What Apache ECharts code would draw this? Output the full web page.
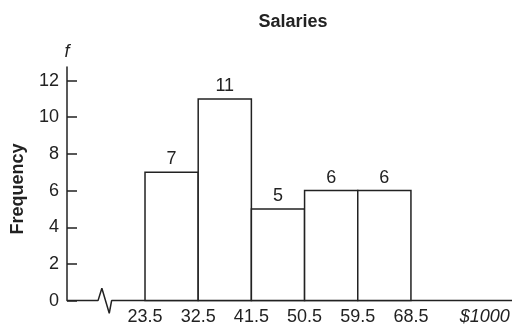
<!DOCTYPE html>
<html><head><meta charset="utf-8">
<script src="https://cdn.jsdelivr.net/npm/echarts@6/dist/echarts.min.js"></script>
<style>html,body{margin:0;padding:0;background:#fff}#c{width:513px;height:326px}</style>
</head><body><div id="c"></div>
<script>
const titleText = 'Salaries';
const yAxisTitle = 'Frequency';
const yAxisSymbol = 'f';
const binEdges = [23.5, 32.5, 41.5, 50.5, 59.5, 68.5];
const frequencies = [7, 11, 5, 6, 6];
const yTickValues = [0, 2, 4, 6, 8, 10, 12];
const xUnitLabel = '$1000';
const xUnitPos = 81.0;

const xMin = 10.3, xMax = 85.6, yMax = 12.74;
const breakPath = [[xMin, 0], [15.55, 0], [16.2, 0.67], [17.45, -0.69], [17.85, 0], [xMax, 0]];

const FONT = '"Liberation Sans", Arial, Helvetica, sans-serif';
const INK = '#222';

const chart = echarts.init(document.getElementById('c'));
chart.setOption({
  animation: false,
  backgroundColor: '#fff',
  textStyle: { fontFamily: FONT },
  title: {
    text: titleText, left: 288, top: 8, textAlign: 'center',
    textStyle: { fontFamily: FONT, fontWeight: 'bold', fontSize: 18, color: INK }
  },
  grid: { left: 67, right: 1, top: 67, bottom: 25.4, outerBoundsMode: 'none', containLabel: false },
  xAxis: {
    type: 'value', min: xMin, max: xMax,
    axisLine: { show: false }, axisTick: { show: false }, splitLine: { show: false },
    axisLabel: {
      customValues: binEdges.concat([xUnitPos]),
      margin: 7, fontSize: 18, color: INK, fontFamily: FONT,
      formatter: v => Math.abs(v - xUnitPos) < 1e-6 ? '{i|' + xUnitLabel + '}' : v.toFixed(1),
      rich: { i: { fontStyle: 'italic', fontSize: 18, color: INK, fontFamily: FONT } }
    }
  },
  yAxis: {
    type: 'value', min: 0, max: yMax,
    name: yAxisSymbol, nameLocation: 'end', nameGap: 6,
    nameTextStyle: { fontStyle: 'italic', fontSize: 18, color: INK, fontFamily: FONT, align: 'center' },
    axisLine: { show: true, lineStyle: { color: INK, width: 1.5 } },
    axisTick: { show: true, inside: true, length: 10, customValues: yTickValues, lineStyle: { color: INK, width: 1.5 } },
    axisLabel: { customValues: yTickValues, margin: 8, fontSize: 18, color: INK, fontFamily: FONT },
    splitLine: { show: false }
  },
  graphic: [{
    type: 'text', x: 18, y: 189, rotation: Math.PI / 2,
    style: { text: yAxisTitle, font: 'bold 18px ' + FONT, fill: INK, align: 'center', verticalAlign: 'middle' }
  }],
  series: [
    {
      type: 'line', data: breakPath, symbol: 'none', clip: false, silent: true,
      lineStyle: { color: INK, width: 1.5 }, z: 1
    },
    {
      type: 'custom', z: 2,
      data: frequencies.map((f, i) => [binEdges[i], binEdges[i + 1], f]),
      encode: { x: [0, 1], y: 2 },
      renderItem: function (params, api) {
        const lo = api.value(0), hi = api.value(1), f = api.value(2);
        const p0 = api.coord([lo, f]), p1 = api.coord([hi, 0]);
        return {
          type: 'group', children: [
            { type: 'rect', shape: { x: p0[0], y: p0[1], width: p1[0] - p0[0], height: p1[1] - p0[1] },
              style: { fill: '#fff', stroke: INK, lineWidth: 1.5 } },
            { type: 'text', x: (p0[0] + p1[0]) / 2, y: p0[1] - 4,
              style: { text: String(f), fill: INK, font: '18px ' + FONT, align: 'center', verticalAlign: 'bottom' } }
          ]
        };
      }
    }
  ]
});
</script>
</body></html>
